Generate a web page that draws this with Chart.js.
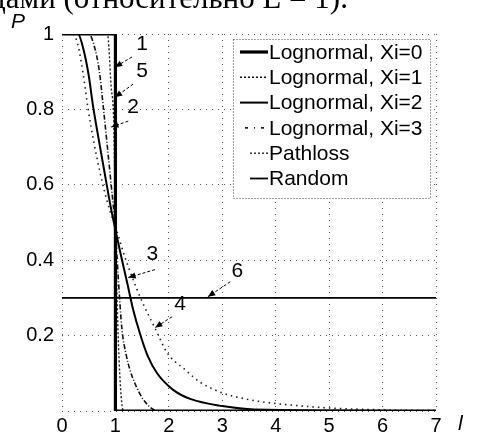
<!DOCTYPE html>
<html>
<head>
<meta charset="utf-8">
<script src="https://cdn.jsdelivr.net/npm/chart.js@4/dist/chart.umd.min.js"></script>
<style>
  html, body { margin: 0; padding: 0; background: #fff; }
  #wrap { width: 477px; height: 434px; position: relative; }
</style>
</head>
<body>
<div id="wrap"><canvas id="lineChart" width="477" height="434"></canvas></div>
<script>
// tick values
const xTickValues = [0, 1, 2, 3, 4, 5, 6, 7];
const yTickValues = [0, 0.2, 0.4, 0.6, 0.8, 1];

// Lognormal, Xi=0 (step)
const l_xi0 = [0, 1, 1, 7];
const p_xi0 = [1, 1, 0, 0];

// Lognormal, Xi=1
const l_xi1 = [0, 0.5, 0.6, 0.7, 0.77, 0.85, 0.92, 1.0, 1.05, 1.12, 1.2, 1.27, 1.36, 1.46, 1.55, 1.65, 1.8, 7];
const p_xi1 = [1, 1, 0.97, 0.9, 0.81, 0.7, 0.6, 0.48, 0.36, 0.22, 0.15, 0.11, 0.075, 0.045, 0.025, 0.01, 0, 0];

// Lognormal, Xi=2
const l_xi2 = [0, 0.3, 0.4, 0.5, 0.58, 0.7, 0.8, 0.9, 1.0, 1.1, 1.22, 1.33, 1.46, 1.61, 1.78, 2.08, 2.4, 3.0, 3.6, 7];
const p_xi2 = [1, 1, 0.96, 0.89, 0.81, 0.71, 0.63, 0.55, 0.48, 0.415, 0.34, 0.27, 0.205, 0.144, 0.1, 0.056, 0.032, 0.013, 0.004, 0];

// Lognormal, Xi=3
const l_xi3 = [0, 0.2, 0.3, 0.4, 0.49, 0.6, 0.7, 0.8, 0.9, 1.0, 1.15, 1.3, 1.5, 1.74, 1.97, 2.3, 2.58, 3.0, 3.4, 3.76, 4.27, 5.0, 6.0, 7];
const p_xi3 = [1, 1, 0.97, 0.89, 0.8, 0.71, 0.64, 0.58, 0.53, 0.49, 0.42, 0.36, 0.29, 0.22, 0.154, 0.11, 0.077, 0.048, 0.033, 0.024, 0.016, 0.008, 0.003, 0.001];

// Pathloss
const l_path = [0, 0.85, 0.92, 0.97, 1.0, 1.03, 1.08, 1.15, 7];
const p_path = [1, 1, 0.86, 0.76, 0.5, 0.3, 0.1, 0, 0];

// Random
const l_rand = [0, 7];
const p_rand = [0.3, 0.3];

// curve labels 1..6: text position and arrow (from -> tip), in data units
const labelText = ['1', '5', '2', '3', '6', '4'];
const labelL = [1.50, 1.50, 1.33, 1.69, 3.28, 2.21];
const labelP = [0.973, 0.90, 0.806, 0.415, 0.37, 0.282];
const arrowFromL = [1.31, 1.33, 1.24, 1.74, 3.15, 2.06];
const arrowFromP = [0.939, 0.867, 0.769, 0.375, 0.343, 0.25];
const arrowTipL = [0.99, 0.99, 0.92, 1.24, 2.73, 1.74];
const arrowTipP = [0.912, 0.832, 0.753, 0.354, 0.303, 0.221];

function pts(xs, ys) {
    return xs.map((x, i) => ({ x: x, y: ys[i] }));
}

const datasets = [
    { label: 'Lognormal, Xi=0', data: pts(l_xi0, p_xi0), borderColor: '#000', borderWidth: 3.2, tension: 0 },
    { label: 'Lognormal, Xi=1', data: pts(l_xi1, p_xi1), borderColor: '#111', borderWidth: 1.6, borderDash: [5, 2, 1, 2], cubicInterpolationMode: 'monotone' },
    { label: 'Lognormal, Xi=2', data: pts(l_xi2, p_xi2), borderColor: '#000', borderWidth: 2, cubicInterpolationMode: 'monotone' },
    { label: 'Lognormal, Xi=3', data: pts(l_xi3, p_xi3), borderColor: '#222', borderWidth: 1.6, borderDash: [1.5, 4], cubicInterpolationMode: 'monotone' },
    { label: 'Pathloss', data: pts(l_path, p_path), borderColor: '#222', borderWidth: 1.4, borderDash: [2, 2], cubicInterpolationMode: 'monotone' },
    { label: 'Random', data: pts(l_rand, p_rand), borderColor: '#000', borderWidth: 1.8, tension: 0 }
];
datasets.forEach(d => { d.showLine = true; d.pointRadius = 0; d.fill = false; });

// legend sample dash per entry (as drawn in the picture's legend)
const legendDash = [[], [2, 2], [], [3, 6, 1, 6], [2, 2], []];
const legendStart = [240, 240, 240, 245, 250, 250];

const extrasPlugin = {
    id: 'extras',
    afterDraw(chart) {
        const ctx = chart.ctx;
        const xs = chart.scales.x, ys = chart.scales.y;
        ctx.save();

        // cropped caption line at the top
        ctx.fillStyle = '#000';
        ctx.font = '31px "Liberation Serif"';
        ctx.textBaseline = 'alphabetic';
        ctx.fillText('дами (относительно L = 1).', -10, 8);

        // axis names
        ctx.font = 'italic 21px "Liberation Sans"';
        ctx.textBaseline = 'middle';
        ctx.textAlign = 'left';
        ctx.fillText('P', 11, 22);
        ctx.fillText('l', 458, 424);

        // arrows + numbers
        ctx.font = '21px "Liberation Sans"';
        ctx.textAlign = 'center';
        labelText.forEach((t, i) => {
            ctx.fillText(t, xs.getPixelForValue(labelL[i]), ys.getPixelForValue(labelP[i]));
            const x1 = xs.getPixelForValue(arrowFromL[i]), y1 = ys.getPixelForValue(arrowFromP[i]);
            const x2 = xs.getPixelForValue(arrowTipL[i]), y2 = ys.getPixelForValue(arrowTipP[i]);
            ctx.strokeStyle = '#000';
            ctx.lineWidth = 1;
            ctx.setLineDash([3, 2]);
            ctx.beginPath();
            ctx.moveTo(x1, y1);
            ctx.lineTo(x2, y2);
            ctx.stroke();
            ctx.setLineDash([]);
            const a = Math.atan2(y2 - y1, x2 - x1);
            ctx.beginPath();
            ctx.moveTo(x2, y2);
            ctx.lineTo(x2 - 8 * Math.cos(a - 0.4), y2 - 8 * Math.sin(a - 0.4));
            ctx.lineTo(x2 - 8 * Math.cos(a + 0.4), y2 - 8 * Math.sin(a + 0.4));
            ctx.closePath();
            ctx.fill();
        });

        // legend box
        const bx = 233, by = 39, bw = 197, bh = 159;
        ctx.fillStyle = '#fff';
        ctx.fillRect(bx, by, bw, bh);
        ctx.strokeStyle = '#444';
        ctx.lineWidth = 1;
        ctx.setLineDash([1, 2]);
        ctx.strokeRect(bx + 0.5, by + 0.5, bw, bh);
        ctx.textAlign = 'left';
        ctx.font = '21px "Liberation Sans"';
        chart.data.datasets.forEach((d, i) => {
            const y = 52 + i * 25.3;
            ctx.strokeStyle = d.borderColor;
            ctx.lineWidth = d.borderWidth;
            ctx.setLineDash(legendDash[i]);
            ctx.beginPath();
            ctx.moveTo(legendStart[i], y);
            ctx.lineTo(268, y);
            ctx.stroke();
            ctx.setLineDash([]);
            ctx.fillStyle = '#000';
            ctx.fillText(d.label, 269, y + 1);
        });
        ctx.restore();
    }
};

new Chart(document.getElementById('lineChart').getContext('2d'), {
    type: 'scatter',
    data: { datasets },
    options: {
        responsive: false,
        animation: false,
        layout: { padding: { top: 34, right: 41, left: 0, bottom: 0 } },
        plugins: { legend: { display: false }, tooltip: { enabled: false } },
        scales: {
            x: {
                type: 'linear', min: 0, max: 7,
                afterBuildTicks: s => { s.ticks = xTickValues.map(v => ({ value: v })); },
                afterFit: s => { s.height = 23; },
                ticks: { color: '#000', font: { family: 'Liberation Sans', size: 20 }, padding: 3, maxRotation: 0,
                         callback: v => String(v) },
                grid: { color: '#555', lineWidth: 1, drawTicks: false },
                border: { display: false, dash: [1, 5] }
            },
            y: {
                type: 'linear', min: 0, max: 1,
                afterBuildTicks: s => { s.ticks = yTickValues.map(v => ({ value: v })); },
                afterFit: s => { s.width = 62; },
                ticks: { color: '#000', font: { family: 'Liberation Sans', size: 20 }, padding: 8,
                         callback: v => v === 0 ? '' : String(+v.toFixed(1)) },
                grid: { color: '#555', lineWidth: 1, drawTicks: false },
                border: { display: false, dash: [1, 5] }
            }
        }
    },
    plugins: [extrasPlugin]
});
</script>
</body>
</html>
